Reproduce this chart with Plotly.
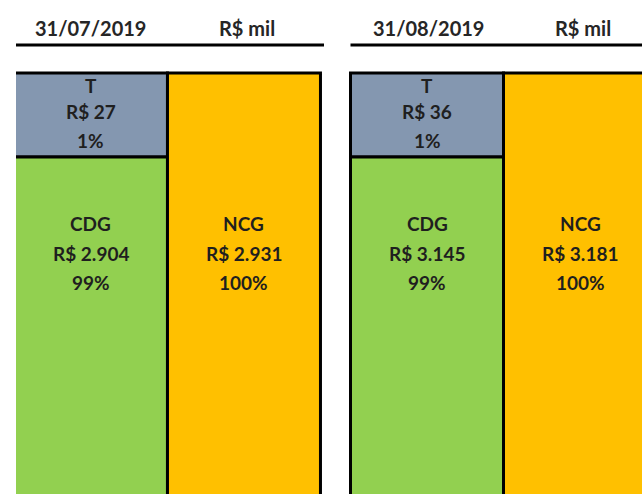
import plotly.graph_objects as go
from plotly.subplots import make_subplots

# data (R$ mil)
dates = ["31/07/2019", "31/08/2019"]
unit_label = "R$ mil"
t_vals = [27, 36]
cdg_vals = [2904, 3145]
ncg_vals = [2931, 3181]

W, H = 642, 494
FONT = "Lato"
TXT = "#1f1f1f"
C_T = "#8497B0"
C_CDG = "#92D050"
C_NCG = "#FFC000"


def px_x(p):
    return p / W


def px_y(p):
    return 1 - p / H


def brl(v):
    return "R$ " + f"{v:,}".replace(",", ".")


fig = make_subplots(rows=2, cols=2, horizontal_spacing=0, vertical_spacing=0)

# panel geometry in pixels (left edge, right edge, x range)
panels = [
    dict(x0=16, x1=322, xr=[-0.49, 1.51]),
    dict(x0=348.5, x1=642, xr=[-0.513, 1.405]),
]
top_y0, split_y, top_line = 70, 157, 73

annotations = []
shapes = []
for i, p in enumerate(panels):
    col = i + 1
    t, cdg, ncg = t_vals[i], cdg_vals[i], ncg_vals[i]
    total = ncg
    for row in (1, 2):
        fig.add_trace(go.Bar(x=[0], y=[t], base=[0], width=1, marker_color=C_T,
                             marker_line=dict(color="black", width=3), hoverinfo="skip"),
                      row=row, col=col)
        fig.add_trace(go.Bar(x=[0], y=[cdg], base=[t], width=1, marker_color=C_CDG,
                             marker_line=dict(color="black", width=3), hoverinfo="skip"),
                      row=row, col=col)
        fig.add_trace(go.Bar(x=[1], y=[ncg], base=[0], width=1, marker_color=C_NCG,
                             marker_line=dict(color="black", width=3), hoverinfo="skip"),
                      row=row, col=col)
        fig.update_xaxes(range=p["xr"], domain=[px_x(p["x0"]), px_x(p["x1"])],
                         visible=False, row=row, col=col)
    # top part: T segment (broken axis)
    pad = t * (top_line - top_y0) / (split_y - top_line)
    fig.update_yaxes(range=[t, -pad], domain=[px_y(split_y), px_y(top_y0)],
                     visible=False, row=1, col=col)
    # lower part: CDG / NCG, cut off at the bottom like the source
    fig.update_yaxes(range=[total * 0.6, t], domain=[0, px_y(split_y)],
                     visible=False, row=2, col=col)

    xref = "x3" if col == 1 else "x4"
    pct = lambda v: f"{round(100 * v / total)}%"
    blocks = [
        (0, [("T", 86), (brl(t), 111), (pct(t), 140)]),
        (0, [("CDG", 223), (brl(cdg), 253), (pct(cdg), 282)]),
        (1, [("NCG", 223), (brl(ncg), 253), (pct(ncg), 282)]),
    ]
    for xv, lines in blocks:
        for txt, yy in lines:
            annotations.append(dict(x=xv, xref=xref, y=px_y(yy), yref="paper",
                                    text=txt, showarrow=False,
                                    xanchor="center", yanchor="middle",
                                    font=dict(family=FONT, size=19, color=TXT, weight="bold")))

    # header
    hx0, hx1 = p["x0"], (324 if col == 1 else 642)
    date_cx = [91, 428][i]
    unit_cx = [247, 583][i]
    for txt, cx in ((dates[i], date_cx), (unit_label, unit_cx)):
        annotations.append(dict(x=px_x(cx), y=px_y(28), xref="paper", yref="paper",
                                text=txt, showarrow=False,
                                xanchor="center", yanchor="middle",
                                font=dict(family=FONT, size=20, color="#262626", weight="bold")))
    shapes.append(dict(type="line", xref="paper", yref="paper",
                       x0=px_x(hx0 + (0 if col == 1 else 2)), x1=px_x(hx1),
                       y0=px_y(45), y1=px_y(45), line=dict(color="black", width=3)))

fig.update_layout(
    width=W, height=H,
    margin=dict(l=0, r=0, t=0, b=0),
    barmode="overlay", showlegend=False,
    paper_bgcolor="white", plot_bgcolor="white",
    annotations=annotations, shapes=shapes,
)

fig.write_html("out.html", config={"displayModeBar": False},
               post_script="document.body.style.margin='0';document.body.style.overflow='hidden';")
